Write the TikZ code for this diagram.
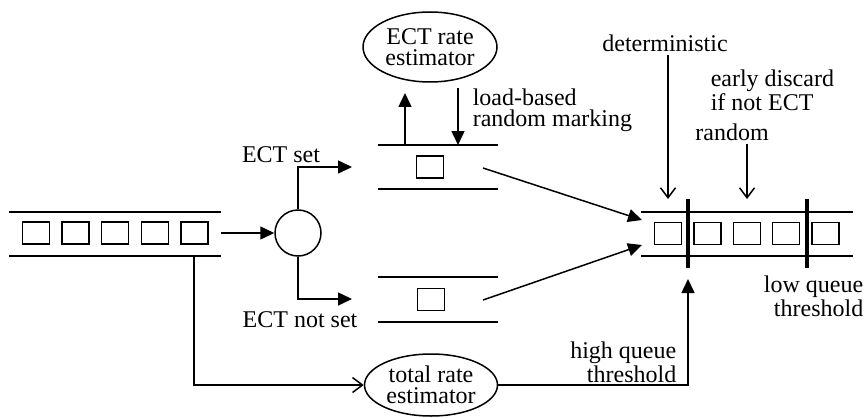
\documentclass[tikz,border=0pt]{standalone}
\usepackage{fontspec}
\setmainfont{Liberation Serif}
\usetikzlibrary{arrows.meta, positioning, shapes.geometric, calc}

\begin{document}
\begin{tikzpicture}[
  x=0.5pt, y=-0.5pt, line width=0.75pt,
  every node/.style={font=\fontsize{12}{10.5}\selectfont, inner sep=0pt},
  pkt/.style={draw, minimum width=13.5pt, minimum height=11pt},
  est/.style={ellipse, draw, align=center},
  arr/.style={-{Triangle[length=7pt, width=6.5pt]}},
  hint/.style={-{Straight Barb[length=5pt, width=7.5pt]}},
  bar/.style={line width=1.6pt},
]
\useasboundingbox (0,0) rectangle (866,417);

% Input queue
\draw (9,212) -- (221,212) (9,256) -- (221,256);
\foreach \i in {1,...,5}
  \node[pkt] (in\i) at ({36+39.6*(\i-1)}, 233) {};
\coordinate (inq-out) at (221,233);
\coordinate (inq-tap) at (194,256);

% Classifier
\node[circle, draw, minimum size=23pt] (cls) at (298,233) {};

% ECT and non-ECT queues
\draw (378,145) -- (498,145) (378,189) -- (498,189);
\node[pkt] (ectpkt) at (430,167) {};
\draw (378,277) -- (498,277) (378,322) -- (498,322);
\node[pkt] (nectpkt) at (431,299.5) {};
\coordinate (ectq-in) at (352,167);
\coordinate (nectq-in) at (352,299);
\coordinate (ectq-out) at (483,168);
\coordinate (nectq-out) at (483,300);

% Output queue with thresholds
\draw (641,212) -- (853,212) (641,256) -- (853,256);
\foreach \i in {1,...,5}
  \node[pkt] (out\i) at ({668+39.4*(\i-1)}, 233.5) {};
\draw[bar] (688,199) -- (688,268);
\draw[bar] (807,199) -- (807,268);
\coordinate (outq-in1) at (642,220);
\coordinate (outq-in2) at (642,245);
\coordinate (hibar-tip) at (688,279);
\coordinate (det-tip) at (668,199);
\coordinate (rnd-tip) at (747,199);

% Rate estimators
\node[est, minimum width=67pt, minimum height=35pt] (ectest) at (430,47) {ECT rate\\estimator};
\node[est, minimum width=66.5pt, minimum height=31pt] (totest) at (431,385) {total rate\\estimator};
\coordinate (ectq-meas) at (405,145);
\coordinate (ectest-in) at (405,93);
\coordinate (ectest-out) at (458,88);
\coordinate (ectq-mark) at (458,145);

% Labels
\node (ectset) at (281,155) {ECT set};
\node (nectset) at (300,320) {ECT not set};
\node[align=left, anchor=west] (mark) at (472,110.5) {load-based\\random marking};
\node (det) at (665,43) {deterministic};
\node[align=left, anchor=west] (disc) at (710,90) {early discard\\if not ECT};
\node (rnd) at (732,132) {random};
\node[align=right, anchor=east] (lowq) at (864,296) {low queue\\threshold};
\node[align=right, anchor=east] (highq) at (677,362) {high queue\\threshold};

% Connectors
\draw[arr] (inq-out) -- (cls.west);
\draw[arr] (cls.north) |- (ectq-in);
\draw[arr] (cls.south) |- (nectq-in);
\draw[arr] (ectq-out) -- (outq-in1);
\draw[arr] (nectq-out) -- (outq-in2);
\draw[arr] (ectq-meas) -- (ectest-in);
\draw[arr] (ectest-out) -- (ectq-mark);
\draw[hint, shorten <=1.5pt] (det-tip |- det.south) -- (det-tip);
\draw[hint, shorten <=1.5pt] (rnd-tip |- rnd.south) -- (rnd-tip);
\draw[hint] (inq-tap) |- (totest.west);
\draw[arr] (totest.east) -| (hibar-tip);

\end{tikzpicture}
\end{document}
